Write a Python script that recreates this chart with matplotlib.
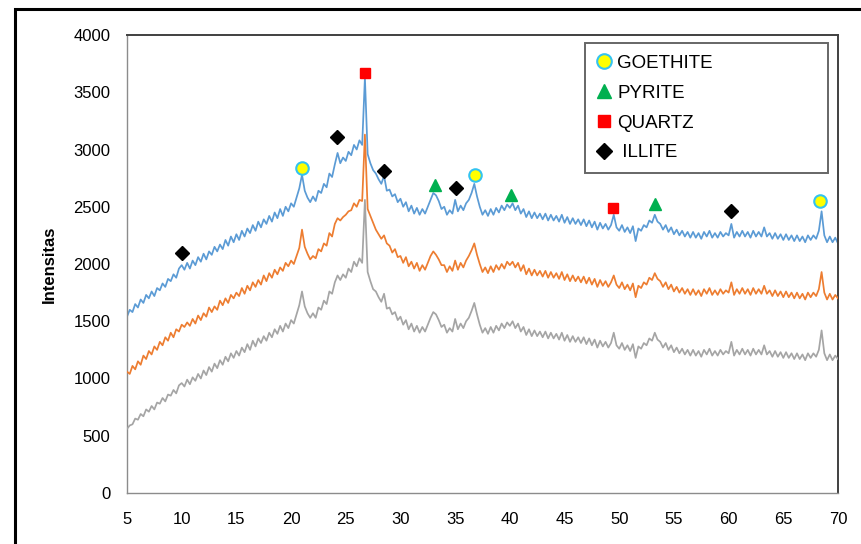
import matplotlib.pyplot as plt
from matplotlib.lines import Line2D

# sudut 2-theta (derajat), langkah 0.25
two_theta = [
    5.0, 5.25, 5.5, 5.75, 6.0, 6.25, 6.5, 6.75, 7.0, 7.25, 7.5, 7.75,
    8.0, 8.25, 8.5, 8.75, 9.0, 9.25, 9.5, 9.75, 10.0, 10.25, 10.5, 10.75,
    11.0, 11.25, 11.5, 11.75, 12.0, 12.25, 12.5, 12.75, 13.0, 13.25, 13.5, 13.75,
    14.0, 14.25, 14.5, 14.75, 15.0, 15.25, 15.5, 15.75, 16.0, 16.25, 16.5, 16.75,
    17.0, 17.25, 17.5, 17.75, 18.0, 18.25, 18.5, 18.75, 19.0, 19.25, 19.5, 19.75,
    20.0, 20.25, 20.5, 20.75, 21.0, 21.25, 21.5, 21.75, 22.0, 22.25, 22.5, 22.75,
    23.0, 23.25, 23.5, 23.75, 24.0, 24.25, 24.5, 24.75, 25.0, 25.25, 25.5, 25.75,
    26.0, 26.25, 26.5, 26.75, 27.0, 27.25, 27.5, 27.75, 28.0, 28.25, 28.5, 28.75,
    29.0, 29.25, 29.5, 29.75, 30.0, 30.25, 30.5, 30.75, 31.0, 31.25, 31.5, 31.75,
    32.0, 32.25, 32.5, 32.75, 33.0, 33.25, 33.5, 33.75, 34.0, 34.25, 34.5, 34.75,
    35.0, 35.25, 35.5, 35.75, 36.0, 36.25, 36.5, 36.75, 37.0, 37.25, 37.5, 37.75,
    38.0, 38.25, 38.5, 38.75, 39.0, 39.25, 39.5, 39.75, 40.0, 40.25, 40.5, 40.75,
    41.0, 41.25, 41.5, 41.75, 42.0, 42.25, 42.5, 42.75, 43.0, 43.25, 43.5, 43.75,
    44.0, 44.25, 44.5, 44.75, 45.0, 45.25, 45.5, 45.75, 46.0, 46.25, 46.5, 46.75,
    47.0, 47.25, 47.5, 47.75, 48.0, 48.25, 48.5, 48.75, 49.0, 49.25, 49.5, 49.75,
    50.0, 50.25, 50.5, 50.75, 51.0, 51.25, 51.5, 51.75, 52.0, 52.25, 52.5, 52.75,
    53.0, 53.25, 53.5, 53.75, 54.0, 54.25, 54.5, 54.75, 55.0, 55.25, 55.5, 55.75,
    56.0, 56.25, 56.5, 56.75, 57.0, 57.25, 57.5, 57.75, 58.0, 58.25, 58.5, 58.75,
    59.0, 59.25, 59.5, 59.75, 60.0, 60.25, 60.5, 60.75, 61.0, 61.25, 61.5, 61.75,
    62.0, 62.25, 62.5, 62.75, 63.0, 63.25, 63.5, 63.75, 64.0, 64.25, 64.5, 64.75,
    65.0, 65.25, 65.5, 65.75, 66.0, 66.25, 66.5, 66.75, 67.0, 67.25, 67.5, 67.75,
    68.0, 68.25, 68.5, 68.75, 69.0, 69.25, 69.5, 69.75, 70.0,
]

# sampel atas (biru)
int_blue = [
    1540, 1600, 1580, 1650, 1620, 1690, 1660, 1730, 1700, 1760, 1720, 1790,
    1770, 1830, 1800, 1870, 1850, 1910, 1880, 1960, 1990, 1950, 2010, 1960,
    2030, 1990, 2060, 2020, 2090, 2040, 2110, 2080, 2150, 2110, 2170, 2130,
    2210, 2160, 2240, 2190, 2260, 2210, 2290, 2240, 2310, 2270, 2340, 2290,
    2370, 2320, 2390, 2350, 2420, 2370, 2450, 2400, 2480, 2420, 2500, 2460,
    2530, 2500, 2580, 2660, 2780, 2640, 2580, 2540, 2590, 2550, 2640, 2620,
    2700, 2670, 2790, 2760, 2870, 2970, 2880, 2930, 2900, 2980, 2950, 3040,
    3000, 3080, 3040, 3630, 2960, 2880, 2820, 2790, 2740, 2700, 2770, 2640,
    2650, 2590, 2610, 2540, 2570, 2500, 2540, 2460, 2510, 2440, 2490, 2430,
    2480, 2440, 2500, 2560, 2620, 2600, 2550, 2480, 2500, 2430, 2470, 2440,
    2560, 2460, 2510, 2470, 2530, 2560, 2620, 2700, 2590, 2500, 2430, 2470,
    2420, 2480, 2430, 2490, 2450, 2510, 2470, 2520, 2490, 2530, 2470, 2510,
    2440, 2480, 2410, 2460, 2400, 2450, 2400, 2440, 2390, 2440, 2380, 2430,
    2380, 2420, 2370, 2430, 2360, 2410, 2350, 2400, 2350, 2390, 2340, 2390,
    2330, 2380, 2320, 2370, 2300, 2360, 2310, 2350, 2300, 2340, 2430, 2320,
    2290, 2340, 2280, 2320, 2270, 2330, 2200, 2310, 2290, 2340, 2320, 2380,
    2360, 2430, 2370, 2350, 2300, 2340, 2280, 2320, 2260, 2300, 2250, 2290,
    2240, 2280, 2230, 2280, 2230, 2270, 2220, 2280, 2240, 2290, 2230, 2270,
    2230, 2280, 2240, 2270, 2250, 2350, 2230, 2280, 2240, 2290, 2240, 2280,
    2230, 2290, 2240, 2280, 2240, 2320, 2240, 2270, 2220, 2270, 2220, 2260,
    2210, 2260, 2210, 2250, 2200, 2250, 2200, 2240, 2190, 2250, 2210, 2250,
    2220, 2290, 2460, 2250, 2190, 2240, 2190, 2230, 2180,
]

# sampel tengah (oranye)
int_orange = [
    1060, 1040, 1110, 1080, 1150, 1120, 1200, 1170, 1240, 1210, 1280, 1250,
    1320, 1290, 1360, 1330, 1400, 1360, 1430, 1410, 1470, 1450, 1490, 1460,
    1520, 1480, 1550, 1510, 1570, 1540, 1620, 1580, 1630, 1600, 1680, 1640,
    1700, 1660, 1730, 1700, 1750, 1720, 1790, 1740, 1810, 1770, 1840, 1800,
    1860, 1820, 1900, 1850, 1920, 1880, 1950, 1910, 1970, 1940, 2010, 1980,
    2030, 2000, 2070, 2140, 2300, 2150, 2090, 2040, 2070, 2050, 2130, 2110,
    2180, 2160, 2270, 2240, 2350, 2400, 2380, 2410, 2430, 2460, 2470, 2530,
    2500, 2560, 2550, 3130, 2480, 2420, 2360, 2300, 2260, 2220, 2250, 2180,
    2160, 2100, 2130, 2060, 2070, 2010, 2060, 1980, 2020, 1960, 2010, 1940,
    1990, 1950, 2010, 2070, 2110, 2080, 2040, 1990, 1990, 1930, 1980, 1940,
    2030, 1950, 2010, 1970, 2030, 2070, 2120, 2180, 2080, 2000, 1930, 1970,
    1920, 1980, 1930, 1990, 1950, 2000, 1960, 2020, 1990, 2020, 1970, 2010,
    1940, 1990, 1910, 1960, 1900, 1950, 1900, 1940, 1890, 1940, 1880, 1930,
    1880, 1920, 1870, 1930, 1860, 1910, 1850, 1900, 1850, 1890, 1840, 1890,
    1830, 1880, 1820, 1870, 1800, 1860, 1810, 1850, 1800, 1840, 1900, 1820,
    1790, 1840, 1780, 1820, 1770, 1830, 1710, 1810, 1790, 1840, 1820, 1880,
    1860, 1920, 1870, 1850, 1800, 1840, 1780, 1820, 1760, 1800, 1750, 1790,
    1740, 1780, 1730, 1780, 1730, 1770, 1720, 1780, 1740, 1790, 1730, 1770,
    1730, 1780, 1740, 1770, 1750, 1840, 1730, 1780, 1740, 1790, 1740, 1780,
    1730, 1790, 1740, 1780, 1740, 1810, 1740, 1770, 1720, 1770, 1720, 1760,
    1710, 1760, 1710, 1750, 1700, 1750, 1700, 1740, 1690, 1750, 1710, 1750,
    1720, 1780, 1930, 1750, 1690, 1740, 1690, 1730, 1700,
]

# sampel bawah (abu-abu)
int_gray = [
    560, 590, 600, 650, 640, 690, 670, 730, 710, 760, 730, 790,
    780, 830, 800, 860, 850, 900, 870, 940, 960, 930, 990, 950,
    1010, 980, 1040, 1000, 1070, 1030, 1100, 1060, 1130, 1090, 1160, 1120,
    1190, 1150, 1220, 1180, 1240, 1200, 1270, 1230, 1300, 1250, 1330, 1280,
    1350, 1310, 1370, 1330, 1400, 1360, 1430, 1390, 1460, 1410, 1480, 1440,
    1510, 1480, 1560, 1640, 1760, 1630, 1570, 1530, 1570, 1530, 1620, 1600,
    1680, 1650, 1760, 1740, 1840, 1900, 1860, 1910, 1880, 1960, 1930, 2020,
    1980, 2050, 2010, 2560, 1930, 1850, 1780, 1760, 1710, 1670, 1740, 1610,
    1620, 1560, 1580, 1510, 1540, 1470, 1510, 1430, 1480, 1410, 1460, 1400,
    1450, 1410, 1470, 1530, 1580, 1560, 1510, 1450, 1470, 1400, 1440, 1410,
    1520, 1430, 1480, 1440, 1500, 1530, 1590, 1660, 1560, 1470, 1400, 1440,
    1390, 1450, 1400, 1460, 1420, 1480, 1440, 1490, 1460, 1500, 1440, 1480,
    1410, 1450, 1380, 1430, 1370, 1420, 1370, 1410, 1360, 1410, 1350, 1400,
    1350, 1390, 1340, 1400, 1330, 1380, 1320, 1370, 1320, 1360, 1310, 1360,
    1300, 1350, 1290, 1340, 1270, 1330, 1280, 1320, 1270, 1310, 1400, 1290,
    1260, 1310, 1250, 1290, 1240, 1300, 1180, 1280, 1260, 1310, 1290, 1350,
    1330, 1400, 1340, 1320, 1270, 1310, 1250, 1290, 1230, 1270, 1220, 1260,
    1210, 1250, 1200, 1250, 1200, 1240, 1190, 1250, 1210, 1260, 1200, 1240,
    1200, 1250, 1210, 1240, 1220, 1320, 1200, 1250, 1210, 1260, 1210, 1250,
    1200, 1260, 1210, 1250, 1210, 1290, 1210, 1240, 1190, 1240, 1190, 1230,
    1180, 1230, 1180, 1220, 1170, 1220, 1170, 1210, 1160, 1220, 1180, 1220,
    1190, 1250, 1420, 1220, 1160, 1210, 1160, 1200, 1170,
]

# penanda fase mineral
goethite_x = [21.0, 36.8, 68.4]
goethite_y = [2840, 2780, 2550]
pyrite_x = [33.2, 40.1, 53.3]
pyrite_y = [2690, 2600, 2520]
quartz_x = [26.8, 49.4]
quartz_y = [3670, 2490]
illite_x = [10.0, 24.2, 28.5, 35.1, 60.2]
illite_y = [2100, 3110, 2810, 2660, 2460]

x_ticks = list(range(5, 71, 5))
y_ticks = list(range(0, 4001, 500))

tick_font = 'Liberation Sans'

fig = plt.figure(figsize=(8.62, 5.44), dpi=100)

# bingkai luar hitam
fig.patches.append(plt.Rectangle((15 / 862, -0.05), 1.0, 1 - 9 / 544 + 0.05,
                                 transform=fig.transFigure, fill=False,
                                 edgecolor='black', linewidth=2.2))

ax = fig.add_axes([127 / 862, 1 - 493 / 544, 711 / 862, 458 / 544])

ax.plot(two_theta, int_blue, color='#5B9BD5', linewidth=1.25, zorder=2)
ax.plot(two_theta, int_orange, color='#ED7D31', linewidth=1.25, zorder=3)
ax.plot(two_theta, int_gray, color='#A5A5A5', linewidth=1.25, zorder=4)

ax.plot(goethite_x, goethite_y, 'o', color='#FFFF00', markeredgecolor='#33C3F0',
        markeredgewidth=1.5, markersize=9, linestyle='none', zorder=6)
ax.plot(pyrite_x, pyrite_y, '^', color='#00B050', markersize=9,
        linestyle='none', zorder=6)
ax.plot(quartz_x, quartz_y, 's', color='#FF0000', markersize=6.5,
        linestyle='none', zorder=6)
ax.plot(illite_x, illite_y, 'D', color='black', markersize=7.5,
        linestyle='none', zorder=6)

ax.set_xlim(5, 70)
ax.set_ylim(0, 4000)
ax.set_xticks(x_ticks)
ax.set_yticks(y_ticks)
ax.tick_params(length=0, labelsize=12)
ax.tick_params(axis='x', pad=14)
ax.tick_params(axis='y', pad=12)
for lab in ax.get_xticklabels() + ax.get_yticklabels():
    lab.set_family(tick_font)

for side in ['left', 'bottom']:
    ax.spines[side].set_color('#8C8C8C')
    ax.spines[side].set_linewidth(1.0)
for side in ['top', 'right']:
    ax.spines[side].set_color('#404040')
    ax.spines[side].set_linewidth(1.4)

ax.set_ylabel('Intensitas', fontsize=12, fontweight='bold', family=tick_font)
ax.yaxis.set_label_coords(-0.0985, 0.5)

handles = [
    Line2D([], [], marker='o', color='#FFFF00', markeredgecolor='#33C3F0',
           markeredgewidth=1.5, markersize=10.5, linestyle='none'),
    Line2D([], [], marker='^', color='#00B050', markersize=10.5, linestyle='none'),
    Line2D([], [], marker='s', color='#FF0000', markersize=8.5, linestyle='none'),
    Line2D([], [], marker='D', color='black', markersize=8.5, linestyle='none'),
]
labels = ['GOETHITE', 'PYRITE', 'QUARTZ', ' ILLITE']
leg = ax.legend(handles, labels, loc='upper left',
                bbox_to_anchor=(0.644, 0.701, 0.342, 0.2815), mode='expand',
                frameon=True, fancybox=False, edgecolor='#404040',
                prop={'family': 'Liberation Sans', 'size': 13.5},
                handlelength=0.8, handletextpad=0.3, labelspacing=0.68,
                borderpad=0.62, borderaxespad=0)
leg.get_frame().set_linewidth(1.4)
leg.set_zorder(10)

fig.savefig('out.png', dpi=100)
